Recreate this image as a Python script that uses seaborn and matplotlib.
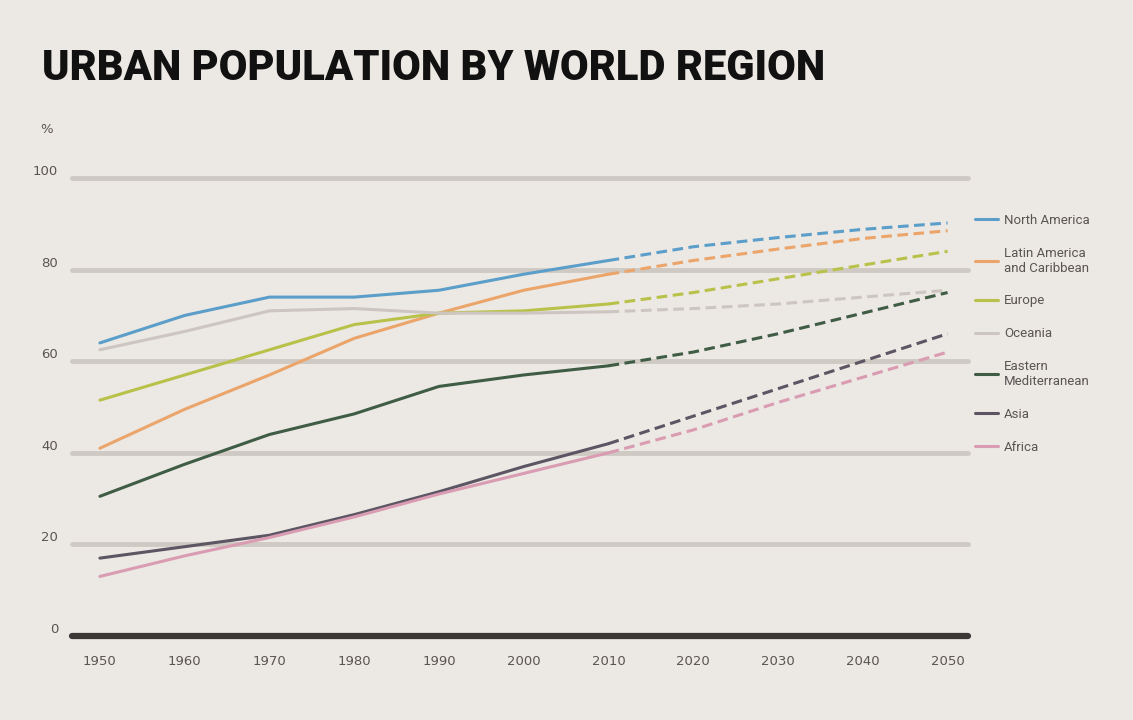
import pandas as pd
import matplotlib.pyplot as plt
import seaborn as sns
from matplotlib.lines import Line2D

# --- data (% urban) ---
years = [1950, 1960, 1970, 1980, 1990, 2000, 2010, 2020, 2030, 2040, 2050]
regions = ["North America", "Latin America\nand Caribbean", "Europe", "Oceania",
           "Eastern\nMediterranean", "Asia", "Africa"]
north_america = [64, 70, 74, 74, 75.5, 79, 82, 85, 87, 88.8, 90.2]
latin_america = [41, 49.5, 57, 65, 70.5, 75.5, 79, 82, 84.5, 86.8, 88.5]
europe = [51.5, 57, 62.5, 68, 70.5, 71, 72.5, 75, 78, 81, 84]
oceania = [62.5, 66.5, 71, 71.5, 70.5, 70.5, 70.8, 71.5, 72.5, 74, 75.5]
eastern_med = [30.5, 37.5, 44, 48.5, 54.5, 57, 59, 62, 66, 70.5, 75]
asia = [17, 19.5, 22, 26.5, 31.5, 37, 42, 48, 54, 60, 66]
africa = [13, 17.5, 21.5, 26, 31, 35.5, 40, 45, 51, 56.5, 62]
series = [north_america, latin_america, europe, oceania, eastern_med, asia, africa]
colors = ["#5b9ec9", "#eba56a", "#b8c24a", "#cdc6c0", "#3f5c45", "#5c5563", "#d99cb3"]
y_ticks = [0, 20, 40, 60, 80, 100]
last_observed = 2010

rows = []
for name, vals in zip(regions, series):
    for yr, v in zip(years, vals):
        rows.append({"year": yr, "region": name, "urban": v})
df = pd.DataFrame(rows)
palette = dict(zip(regions, colors))

bg = "#ece8e3"
txt_col = "#5a5555"
sns.set_theme(style="white", rc={"axes.facecolor": bg, "figure.facecolor": bg})

fig = plt.figure(figsize=(11.33, 7.2), dpi=100)
ax = fig.add_axes([0.0635, 0.1167, 0.7908, 0.636])

# gridlines + heavy baseline
for v in y_ticks[1:]:
    ax.axhline(v, color="#cfc9c3", lw=3.5, zorder=0, clip_on=False)
ax.axhline(0, color="#3b3737", lw=4.5, zorder=3, clip_on=False)

# solid = observed, dashed = projection
observed = df[df["year"] <= last_observed]
projected = df[df["year"] >= last_observed]
sns.lineplot(data=observed, x="year", y="urban", hue="region", palette=palette,
             hue_order=regions, lw=2.2, legend=False, ax=ax)
sns.lineplot(data=projected, x="year", y="urban", hue="region", palette=palette,
             hue_order=regions, lw=2.2, legend=False, ax=ax)
for ln in ax.get_lines()[-len(regions):]:
    ln.set_linestyle((0, (3.5, 1.8)))

ax.set_xlim(1946.7, 2052.4)
ax.set_ylim(0, 100)
sns.despine(ax=ax, left=True, bottom=True)
ax.set_xlabel("")
ax.set_ylabel("")
ax.set_xticks(years)
ax.set_xticklabels([str(y) for y in years], color=txt_col, fontsize=9.5)
ax.set_yticks(y_ticks)
ax.set_yticklabels([str(v) for v in y_ticks], color=txt_col, fontsize=9.5, va="bottom")
ax.tick_params(axis="x", length=0, pad=14)
ax.tick_params(axis="y", length=0, pad=10)
ax.text(-0.028, 1.105, "%", transform=ax.transAxes, color=txt_col, fontsize=9.5,
        ha="center", va="center")

fig.text(0.037, 0.905, "URBAN POPULATION BY WORLD REGION",
         family=["Roboto", "DejaVu Sans"], weight="black",
         fontsize=30, color="#111111", va="center", ha="left")

handles = [Line2D([0], [0], color=c, lw=2.2) for c in colors]
ax.legend(handles, regions, loc="upper left", bbox_to_anchor=(1.008, 0.922),
          frameon=False, borderaxespad=0, borderpad=0, handlelength=1.7,
          handletextpad=0.5, labelspacing=1.5,
          prop={"size": 9.5, "family": ["Roboto", "DejaVu Sans"]},
          labelcolor=txt_col)

fig.savefig("out.png", dpi=100, facecolor=bg)
